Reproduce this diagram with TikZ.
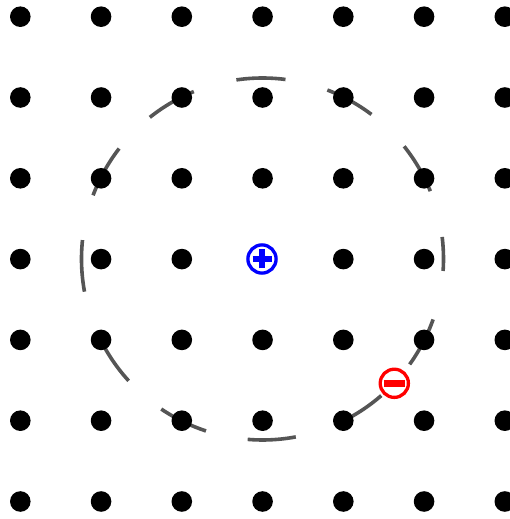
\documentclass[tikz,border=0pt]{standalone}
\definecolor{ringgray}{RGB}{85,85,85}
\tikzset{
  dot/.style={circle, fill=black, inner sep=0pt, minimum size=20.6pt},
  chargeplus/.style={circle, draw=blue, fill=white, line width=3.3pt, inner sep=0pt, minimum size=28.2pt},
  chargeminus/.style={circle, draw=red, fill=white, line width=3.3pt, inner sep=0pt, minimum size=28.2pt},
  ringdash/.style={draw=ringgray, line width=3.6pt}
}
\begin{document}
\begin{tikzpicture}[x=1pt,y=1pt]
\useasboundingbox (0,0) rectangle (510,519);
\clip (0,0) rectangle (510,519);
\fill[white] (0,0) rectangle (510,519);
\coordinate (C) at (262.5,260);
% dashed circle
\foreach \a/\b in {22/38.5,53/69,82.7/98.3,112.3/128.5,142.4/159.4,174/190.4,204/222.3,236/251.8,265.3/280.6,295/311,324.4/340.5,356.2/367}{
  \draw[ringdash] (C) ++(\a:181) arc[start angle=\a, end angle=\b, radius=181];
}
% lattice of dots
\foreach \i in {0,...,6}{
  \foreach \j in {0,...,6}{
    \node[dot] (d-\i-\j) at ({20.3+80.75*\i},{519-16.7-80.8*\j}) {};
  }
}
% charges
\node[chargeplus] (plus) at (262,260) {};
\draw[blue, line width=6pt] ([xshift=-9.5pt]plus.center) -- ([xshift=9.5pt]plus.center);
\draw[blue, line width=6pt] ([yshift=-9.5pt]plus.center) -- ([yshift=9.5pt]plus.center);
\node[chargeminus] (minus) at (394.3,135.7) {};
\draw[red, line width=6.5pt] ([xshift=-10.5pt]minus.center) -- ([xshift=10.5pt]minus.center);
\end{tikzpicture}
\end{document}
